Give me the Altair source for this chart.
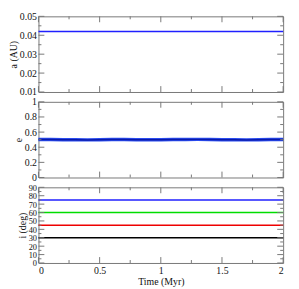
import altair as alt
import pandas as pd

# ---- data ----
time_pts = [0, 0.25, 0.5, 0.75, 1.0, 1.25, 1.5, 1.75, 2.0]
a_vals = [0.042, 0.042, 0.042, 0.042, 0.042, 0.042, 0.042, 0.042, 0.042]

e_time = [0, 0.1, 0.2, 0.3, 0.4, 0.5, 0.6, 0.7, 0.8, 0.9, 1.0,
          1.1, 1.2, 1.3, 1.4, 1.5, 1.6, 1.7, 1.8, 1.9, 2.0]
e_vals = [0.503, 0.502, 0.500, 0.498, 0.497, 0.499, 0.501, 0.502, 0.500, 0.498, 0.499,
          0.501, 0.503, 0.504, 0.502, 0.500, 0.498, 0.497, 0.499, 0.501, 0.502]

inc_series = ["i30", "i45", "i60", "i75"]
inc_values = [30, 45, 60, 75]
inc_colors = ["#000000", "#ee0000", "#00dd00", "#2020ff"]

x_major = [0, 0.5, 1, 1.5, 2]
x_minor = [0.25, 0.75, 1.25, 1.75]
a_major = [0.01, 0.02, 0.03, 0.04, 0.05]
a_minor = [0.015, 0.025, 0.035, 0.045]
e_major = [0, 0.2, 0.4, 0.6, 0.8, 1]
e_minor = [0.1, 0.3, 0.5, 0.7, 0.9]
i_major = [0, 10, 20, 30, 40, 50, 60, 70, 80, 90]
i_minor = [5, 15, 25, 35, 45, 55, 65, 75, 85]

W = 249
H = 77
MAJ = 6
MIN = 3
TICK_COLOR = "#777777"
FONT = "Liberation Serif"

xscale = alt.Scale(domain=[0, 2], nice=False, zero=False)


def yaxis(title, values, size=10):
    return alt.Axis(title=title, values=values, ticks=False, domain=False, grid=False,
                    labelExpr="datum.value", labelPadding=2, titlePadding=1,
                    labelOverlap=False, labelBound=False, labelFontSize=size)


def tick_layers(yscale, yax, xax, ymaj, ymin):
    layers = []
    for vals, ln in ((ymaj, MAJ), (ymin, MIN)):
        df = pd.DataFrame({"v": vals})
        base = alt.Chart(df).mark_rule(color=TICK_COLOR, strokeWidth=1)
        layers.append(base.encode(y=alt.Y("v:Q", scale=yscale, axis=yax),
                                  x=alt.value(0), x2=alt.value(ln)))
        layers.append(base.encode(y=alt.Y("v:Q", scale=yscale, axis=yax),
                                  x=alt.value(W - ln), x2=alt.value(W)))
    for vals, ln in ((x_major, MAJ), (x_minor, MIN)):
        df = pd.DataFrame({"v": vals})
        base = alt.Chart(df).mark_rule(color=TICK_COLOR, strokeWidth=1)
        layers.append(base.encode(x=alt.X("v:Q", scale=xscale, axis=xax),
                                  y=alt.value(0), y2=alt.value(ln)))
        layers.append(base.encode(x=alt.X("v:Q", scale=xscale, axis=xax),
                                  y=alt.value(H - ln), y2=alt.value(H)))
    return layers


# panel 1
ascale = alt.Scale(domain=[0.01, 0.05], nice=False, zero=False)
a_axis = yaxis("a (AU)", a_major)
df_a = pd.DataFrame({"t": time_pts, "a": a_vals})
p1_line = alt.Chart(df_a).mark_line(color="#2020ff", strokeWidth=1.5).encode(
    x=alt.X("t:Q", scale=xscale, axis=None),
    y=alt.Y("a:Q", scale=ascale, axis=a_axis),
)
p1 = alt.layer(p1_line, *tick_layers(ascale, a_axis, None, a_major, a_minor)).properties(width=W, height=H)

# panel 2
escale = alt.Scale(domain=[0, 1], nice=False, zero=False)
e_axis = yaxis("e", e_major)
df_e = pd.DataFrame({"t": e_time, "e": e_vals})
p2_wide = alt.Chart(df_e).mark_line(color="#2a4cf0", strokeWidth=3.5).encode(
    x=alt.X("t:Q", scale=xscale, axis=None),
    y=alt.Y("e:Q", scale=escale, axis=e_axis),
)
p2_core = alt.Chart(df_e).mark_line(color="#0a1aa8", strokeWidth=1.5).encode(
    x=alt.X("t:Q", scale=xscale, axis=None),
    y=alt.Y("e:Q", scale=escale, axis=e_axis),
)
p2 = alt.layer(p2_wide, p2_core, *tick_layers(escale, e_axis, None, e_major, e_minor)).properties(width=W, height=H)

# panel 3
iscale = alt.Scale(domain=[0, 90], nice=False, zero=False)
i_axis = yaxis("i (deg)", i_major, size=8.5)
t_axis = alt.Axis(title="Time (Myr)", values=x_major, ticks=False, domain=False,
                  grid=False, labelExpr="datum.value", labelPadding=3, titlePadding=1,
                  labelOverlap=False, labelBound=False)
rows = []
for s, v in zip(inc_series, inc_values):
    for t in [0, 2]:
        rows.append({"t": t, "i": v, "s": s})
df_i = pd.DataFrame(rows)
p3_line = alt.Chart(df_i).mark_line(strokeWidth=1.5).encode(
    x=alt.X("t:Q", scale=xscale, axis=t_axis),
    y=alt.Y("i:Q", scale=iscale, axis=i_axis),
    color=alt.Color("s:N", scale=alt.Scale(domain=inc_series, range=inc_colors), legend=None),
    detail="s:N",
)
p3 = alt.layer(p3_line, *tick_layers(iscale, i_axis, t_axis, i_major, i_minor)).properties(width=W, height=H)

chart = alt.vconcat(p1, p2, p3, spacing=10, bounds="flush").properties(
    padding={"top": 0, "left": 0, "right": 0, "bottom": 0}
).configure(
    font=FONT,
).configure_view(
    stroke=TICK_COLOR, strokeWidth=1
).configure_axis(
    labelFont=FONT, titleFont=FONT, labelFontSize=10, titleFontSize=10,
    titleFontWeight="normal", labelColor="#111111", titleColor="#111111",
)

chart.save("out.html", embed_options={"renderer": "svg", "actions": False})
